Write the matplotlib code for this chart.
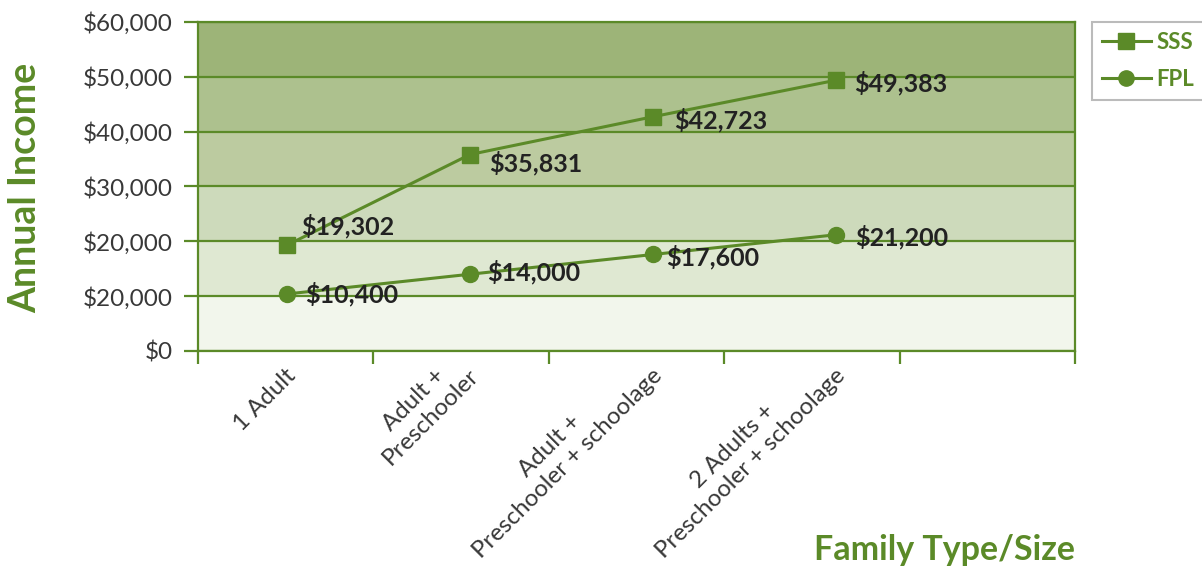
import matplotlib.pyplot as plt
import numpy as np
from matplotlib.lines import Line2D

plt.rcParams['font.family'] = ['Lato', 'DejaVu Sans']

# data
categories = ["1 Adult", "Adult +\nPreschooler", "Adult +\nPreschooler + schoolage",
              "2 Adults +\nPreschooler + schoolage"]
sss = [19302, 35831, 42723, 49383]
fpl = [10400, 14000, 17600, 21200]
ytick_vals = [0, 10000, 20000, 30000, 40000, 50000, 60000]
ytick_labels = ["$0", "$20,000", "$20,000", "$30,000", "$40,000", "$50,000", "$60,000"]

green = "#5b8a28"
band_colors = ["#f2f6ec", "#dfe8d2", "#cddabb", "#bccba0", "#adc18e", "#9db478"]

fig = plt.figure(figsize=(12.02, 5.69), dpi=100)
ax = fig.add_axes([198 / 1202, 1 - 351 / 569, (1075 - 198) / 1202, (351 - 22) / 569])

# shaded bands
for lo, hi, c in zip(ytick_vals[:-1], ytick_vals[1:], band_colors):
    ax.axhspan(lo, hi, color=c, zorder=0, lw=0)

x = np.arange(len(categories))
ax.plot(x, sss, color=green, lw=2.2, marker="s", ms=11.5, zorder=3, clip_on=False)
ax.plot(x, fpl, color=green, lw=2.2, marker="o", ms=11.5, zorder=3, clip_on=False)

# value labels
sss_off = [(14, 19), (19, -9), (21, -3), (18, -3)]
fpl_off = [(18, 0), (17, 2), (13, -3), (19, -2)]
for xi, v, off in zip(x, sss, sss_off):
    ax.annotate(f"${v:,}", (xi, v), xytext=off, textcoords="offset pixels",
                ha="left", va="center", fontsize=18, fontweight="bold", color="#222222", zorder=4)
for xi, v, off in zip(x, fpl, fpl_off):
    ax.annotate(f"${v:,}", (xi, v), xytext=off, textcoords="offset pixels",
                ha="left", va="center", fontsize=18, fontweight="bold", color="#222222", zorder=4)

# axes
x0, x1 = -0.486, 4.306
ax.set_xlim(x0, x1)
ax.set_ylim(0, 60000)
ax.set_yticks(ytick_vals)
ax.set_yticklabels(ytick_labels, fontsize=17.5, color="#383838")
ax.set_xticks(np.linspace(x0, x1, 6))
ax.set_xticklabels([])
ax.grid(axis="y", color=green, lw=1.6, zorder=1)
ax.set_axisbelow(False)
ax.tick_params(axis="y", length=10, width=1.6, color=green, pad=8)
ax.tick_params(axis="x", length=9, width=1.6, color=green)
for s in ax.spines.values():
    s.set_color(green)
    s.set_linewidth(1.6)

# rotated category labels, anchored at the end of their last line
for xi, lab in zip(x, categories):
    ax.annotate(lab, (xi, 0), xytext=(13, -29), textcoords="offset pixels",
                rotation=45, rotation_mode="anchor", ha="right", va="bottom",
                multialignment="center", fontsize=17.3, color="#383838",
                annotation_clip=False, linespacing=1.22)

fig.text(25 / 1202, 1 - 188 / 569, "Annual Income", rotation=90, ha="center", va="center",
         fontsize=27, fontweight="bold", color=green)
fig.text(1075 / 1202, 1 - 550 / 569, "Family Type/Size", ha="right", va="center",
         fontsize=24.5, fontweight="bold", color=green)

handles = [Line2D([], [], color=green, lw=2.2, marker="s", ms=11),
           Line2D([], [], color=green, lw=2.2, marker="o", ms=11)]
leg = fig.legend(handles, ["SSS", "FPL"], loc="upper left",
                 bbox_to_anchor=(1092 / 1202, 1 - 22 / 569), frameon=True, fancybox=False,
                 handlelength=2.2, handletextpad=0.25, borderpad=0.45, labelspacing=0.7,
                 prop={"size": 16, "weight": "bold"}, borderaxespad=0)
leg.get_frame().set_edgecolor("#aaaaaa")
leg.get_frame().set_linewidth(1.5)
for t in leg.get_texts():
    t.set_color(green)

fig.savefig("out.png", dpi=100)
